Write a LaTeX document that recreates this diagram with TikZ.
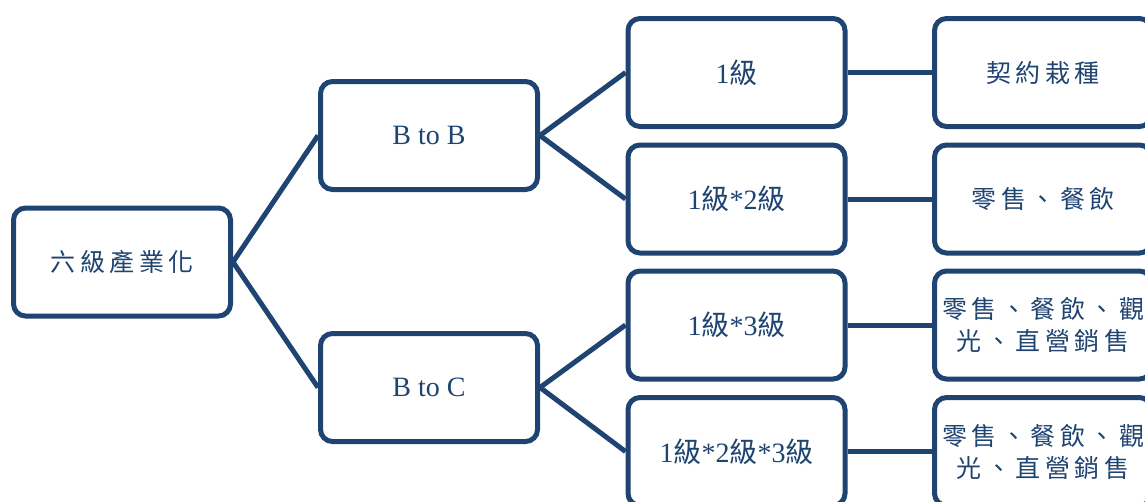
\documentclass[tikz,border=0pt]{standalone}
\usepackage{fontspec}
\setmainfont{Liberation Serif}
\newfontfamily\cjk{Noto Sans CJK TC}
\newfontfamily\cjksp[LetterSpace=18]{Noto Sans CJK TC}
\definecolor{navy}{RGB}{31,68,113}
\begin{document}
\begin{tikzpicture}[x=1pt,y=-1pt,
  box/.style={draw=navy, line width=5pt, rounded corners=12pt,
    minimum width=217pt, minimum height=108pt, inner sep=0pt,
    text=navy, align=center, font=\fontsize{28}{32}\selectfont},
  cbox/.style={box, font=\fontsize{25}{32}\selectfont\cjksp},
  link/.style={draw=navy, line width=5pt}]
\useasboundingbox (0,0) rectangle (1145,501);
\clip (0,0) rectangle (1145,501);
\node[cbox] (root) at (122,262) {六級產業化};
\node[box] (bb) at (429,135.5) {B to B};
\node[box] (bc) at (429,387.5) {B to C};
\node[box] (a1) at (736.5,72.5) {1{\cjk 級}};
\node[box] (a2) at (736.5,199) {1{\cjk 級}*2{\cjk 級}};
\node[box] (a3) at (736.5,325) {1{\cjk 級}*3{\cjk 級}};
\node[box] (a4) at (736.5,451.5) {1{\cjk 級}*2{\cjk 級}*3{\cjk 級}};
\node[cbox] (b1) at (1043,72.5) {契約栽種};
\node[cbox] (b2) at (1043,199) {零售、餐飲};
\node[cbox] (b3) at (1043,325) {零售、餐飲、觀\\光、直營銷售};
\node[cbox] (b4) at (1043,451.5) {零售、餐飲、觀\\光、直營銷售};
\draw[link] (root.east) -- (bb.west);
\draw[link] (root.east) -- (bc.west);
\draw[link] (bb.east) -- (a1.west);
\draw[link] (bb.east) -- (a2.west);
\draw[link] (bc.east) -- (a3.west);
\draw[link] (bc.east) -- (a4.west);
\draw[link] (a1) -- (b1);
\draw[link] (a2) -- (b2);
\draw[link] (a3) -- (b3);
\draw[link] (a4) -- (b4);
\end{tikzpicture}
\end{document}
